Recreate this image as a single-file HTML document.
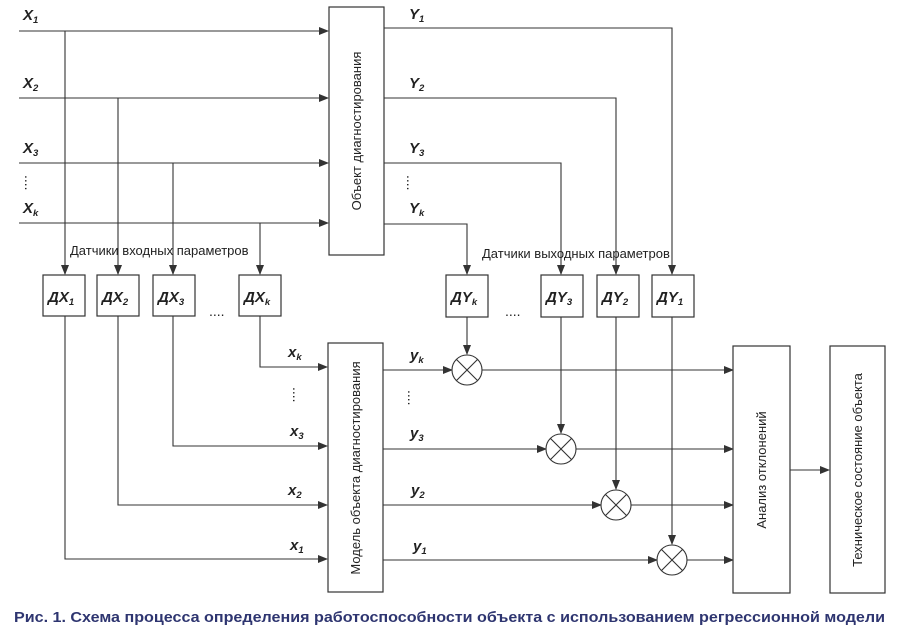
<!DOCTYPE html>
<html><head><meta charset="utf-8"><style>
html,body{margin:0;padding:0;background:#fff;width:900px;height:644px;overflow:hidden}
svg{display:block}
text{font-family:"Liberation Sans",sans-serif;fill:#222}
.lb{font-weight:bold;font-style:italic;font-size:15px}
.sub{font-size:9.5px;font-weight:bold;font-style:italic}
.bx{fill:#fff;stroke:#333;stroke-width:1.2}
.ln{stroke:#333;stroke-width:1.1;fill:none}
.vt{font-size:13px}
</style></head><body>
<svg width="900" height="644" viewBox="0 0 900 644">
<defs><marker id="a" markerWidth="10" markerHeight="8" refX="9" refY="4" orient="auto" markerUnits="userSpaceOnUse"><path d="M0,0 L10,4 L0,8z" fill="#333"/></marker></defs>
<g class="ln">
<path d="M19 31H328" marker-end="url(#a)"/>
<path d="M19 98H328" marker-end="url(#a)"/>
<path d="M19 163H328" marker-end="url(#a)"/>
<path d="M19 223H328" marker-end="url(#a)"/>
<path d="M65 31V274" marker-end="url(#a)"/>
<path d="M118 98V274" marker-end="url(#a)"/>
<path d="M173 163V274" marker-end="url(#a)"/>
<path d="M260 223V274" marker-end="url(#a)"/>
<path d="M384 28H672V274" marker-end="url(#a)"/>
<path d="M384 98H616V274" marker-end="url(#a)"/>
<path d="M384 163H561V274" marker-end="url(#a)"/>
<path d="M384 224H467V274" marker-end="url(#a)"/>
<path d="M65 316V559H327" marker-end="url(#a)"/>
<path d="M118 316V505H327" marker-end="url(#a)"/>
<path d="M173 316V446H327" marker-end="url(#a)"/>
<path d="M260 316V367H327" marker-end="url(#a)"/>
<path d="M467 317V354" marker-end="url(#a)"/>
<path d="M561 317V433" marker-end="url(#a)"/>
<path d="M616 317V489" marker-end="url(#a)"/>
<path d="M672 317V544" marker-end="url(#a)"/>
<path d="M383 370H452" marker-end="url(#a)"/>
<path d="M383 449H546" marker-end="url(#a)"/>
<path d="M383 505H601" marker-end="url(#a)"/>
<path d="M383 560H657" marker-end="url(#a)"/>
<path d="M482 370H733" marker-end="url(#a)"/>
<path d="M576 449H733" marker-end="url(#a)"/>
<path d="M631 505H733" marker-end="url(#a)"/>
<path d="M687 560H733" marker-end="url(#a)"/>
<path d="M790 470H829" marker-end="url(#a)"/>
</g>
<g class="ln">
<circle cx="467" cy="370" r="15" fill="#fff"/><path d="M456.4 359.4L477.6 380.6M477.6 359.4L456.4 380.6"/>
<circle cx="561" cy="449" r="15" fill="#fff"/><path d="M550.4 438.4L571.6 459.6M571.6 438.4L550.4 459.6"/>
<circle cx="616" cy="505" r="15" fill="#fff"/><path d="M605.4 494.4L626.6 515.6M626.6 494.4L605.4 515.6"/>
<circle cx="672" cy="560" r="15" fill="#fff"/><path d="M661.4 549.4L682.6 570.6M682.6 549.4L661.4 570.6"/>
</g>
<rect class="bx" x="329" y="7" width="55" height="248"/>
<text class="vt" transform="translate(361,131) rotate(-90)" text-anchor="middle">Объект диагностирования</text>
<rect class="bx" x="328" y="343" width="55" height="249"/>
<text class="vt" transform="translate(360,468) rotate(-90)" text-anchor="middle">Модель объекта диагностирования</text>
<rect class="bx" x="733" y="346" width="57" height="247"/>
<text class="vt" transform="translate(766,470) rotate(-90)" text-anchor="middle">Анализ отклонений</text>
<rect class="bx" x="830" y="346" width="55" height="247"/>
<text class="vt" transform="translate(862,470) rotate(-90)" text-anchor="middle">Техническое состояние объекта</text>
<g>
<rect class="bx" x="43" y="275" width="42" height="41"/><rect class="bx" x="97" y="275" width="42" height="41"/>
<rect class="bx" x="153" y="275" width="42" height="41"/><rect class="bx" x="239" y="275" width="42" height="41"/>
<rect class="bx" x="446" y="275" width="42" height="42"/><rect class="bx" x="541" y="275" width="42" height="42"/>
<rect class="bx" x="597" y="275" width="42" height="42"/><rect class="bx" x="652" y="275" width="42" height="42"/>
</g>
<g class="lb">
<text x="48" y="302">ДX<tspan class="sub" dy="3">1</tspan></text>
<text x="102" y="302">ДX<tspan class="sub" dy="3">2</tspan></text>
<text x="158" y="302">ДX<tspan class="sub" dy="3">3</tspan></text>
<text x="244" y="302">ДX<tspan class="sub" dy="3">k</tspan></text>
<text x="451" y="302">ДY<tspan class="sub" dy="3">k</tspan></text>
<text x="546" y="302">ДY<tspan class="sub" dy="3">3</tspan></text>
<text x="602" y="302">ДY<tspan class="sub" dy="3">2</tspan></text>
<text x="657" y="302">ДY<tspan class="sub" dy="3">1</tspan></text>
<text x="23" y="20">X<tspan class="sub" dy="3">1</tspan></text>
<text x="23" y="88">X<tspan class="sub" dy="3">2</tspan></text>
<text x="23" y="153">X<tspan class="sub" dy="3">3</tspan></text>
<text x="23" y="213">X<tspan class="sub" dy="3">k</tspan></text>
<text x="409" y="19">Y<tspan class="sub" dy="3">1</tspan></text>
<text x="409" y="88">Y<tspan class="sub" dy="3">2</tspan></text>
<text x="409" y="153">Y<tspan class="sub" dy="3">3</tspan></text>
<text x="409" y="213">Y<tspan class="sub" dy="3">k</tspan></text>
<text x="288" y="357">x<tspan class="sub" dy="3">k</tspan></text>
<text x="290" y="436">x<tspan class="sub" dy="3">3</tspan></text>
<text x="288" y="495">x<tspan class="sub" dy="3">2</tspan></text>
<text x="290" y="550">x<tspan class="sub" dy="3">1</tspan></text>
<text x="410" y="360">y<tspan class="sub" dy="3">k</tspan></text>
<text x="410" y="438">y<tspan class="sub" dy="3">3</tspan></text>
<text x="411" y="495">y<tspan class="sub" dy="3">2</tspan></text>
<text x="413" y="551">y<tspan class="sub" dy="3">1</tspan></text>
</g>
<g font-size="14" fill="#444">
<text x="25" y="175" transform="rotate(90 25 175)">....</text>
<text x="407" y="175" transform="rotate(90 407 175)">....</text>
<text x="293" y="387" transform="rotate(90 293 387)">....</text>
<text x="408" y="390" transform="rotate(90 408 390)">....</text>
<text x="209" y="316">....</text>
<text x="505" y="316">....</text>
</g>
<text x="70" y="255" font-size="13">Датчики входных параметров</text>
<text x="482" y="258" font-size="13">Датчики выходных параметров</text>
<text x="14" y="622" font-size="14.5" font-weight="bold" style="fill:#2e3570" textLength="871" lengthAdjust="spacingAndGlyphs">Рис. 1. Схема процесса определения работоспособности объекта с использованием регрессионной модели</text>
</svg>
</body></html>
